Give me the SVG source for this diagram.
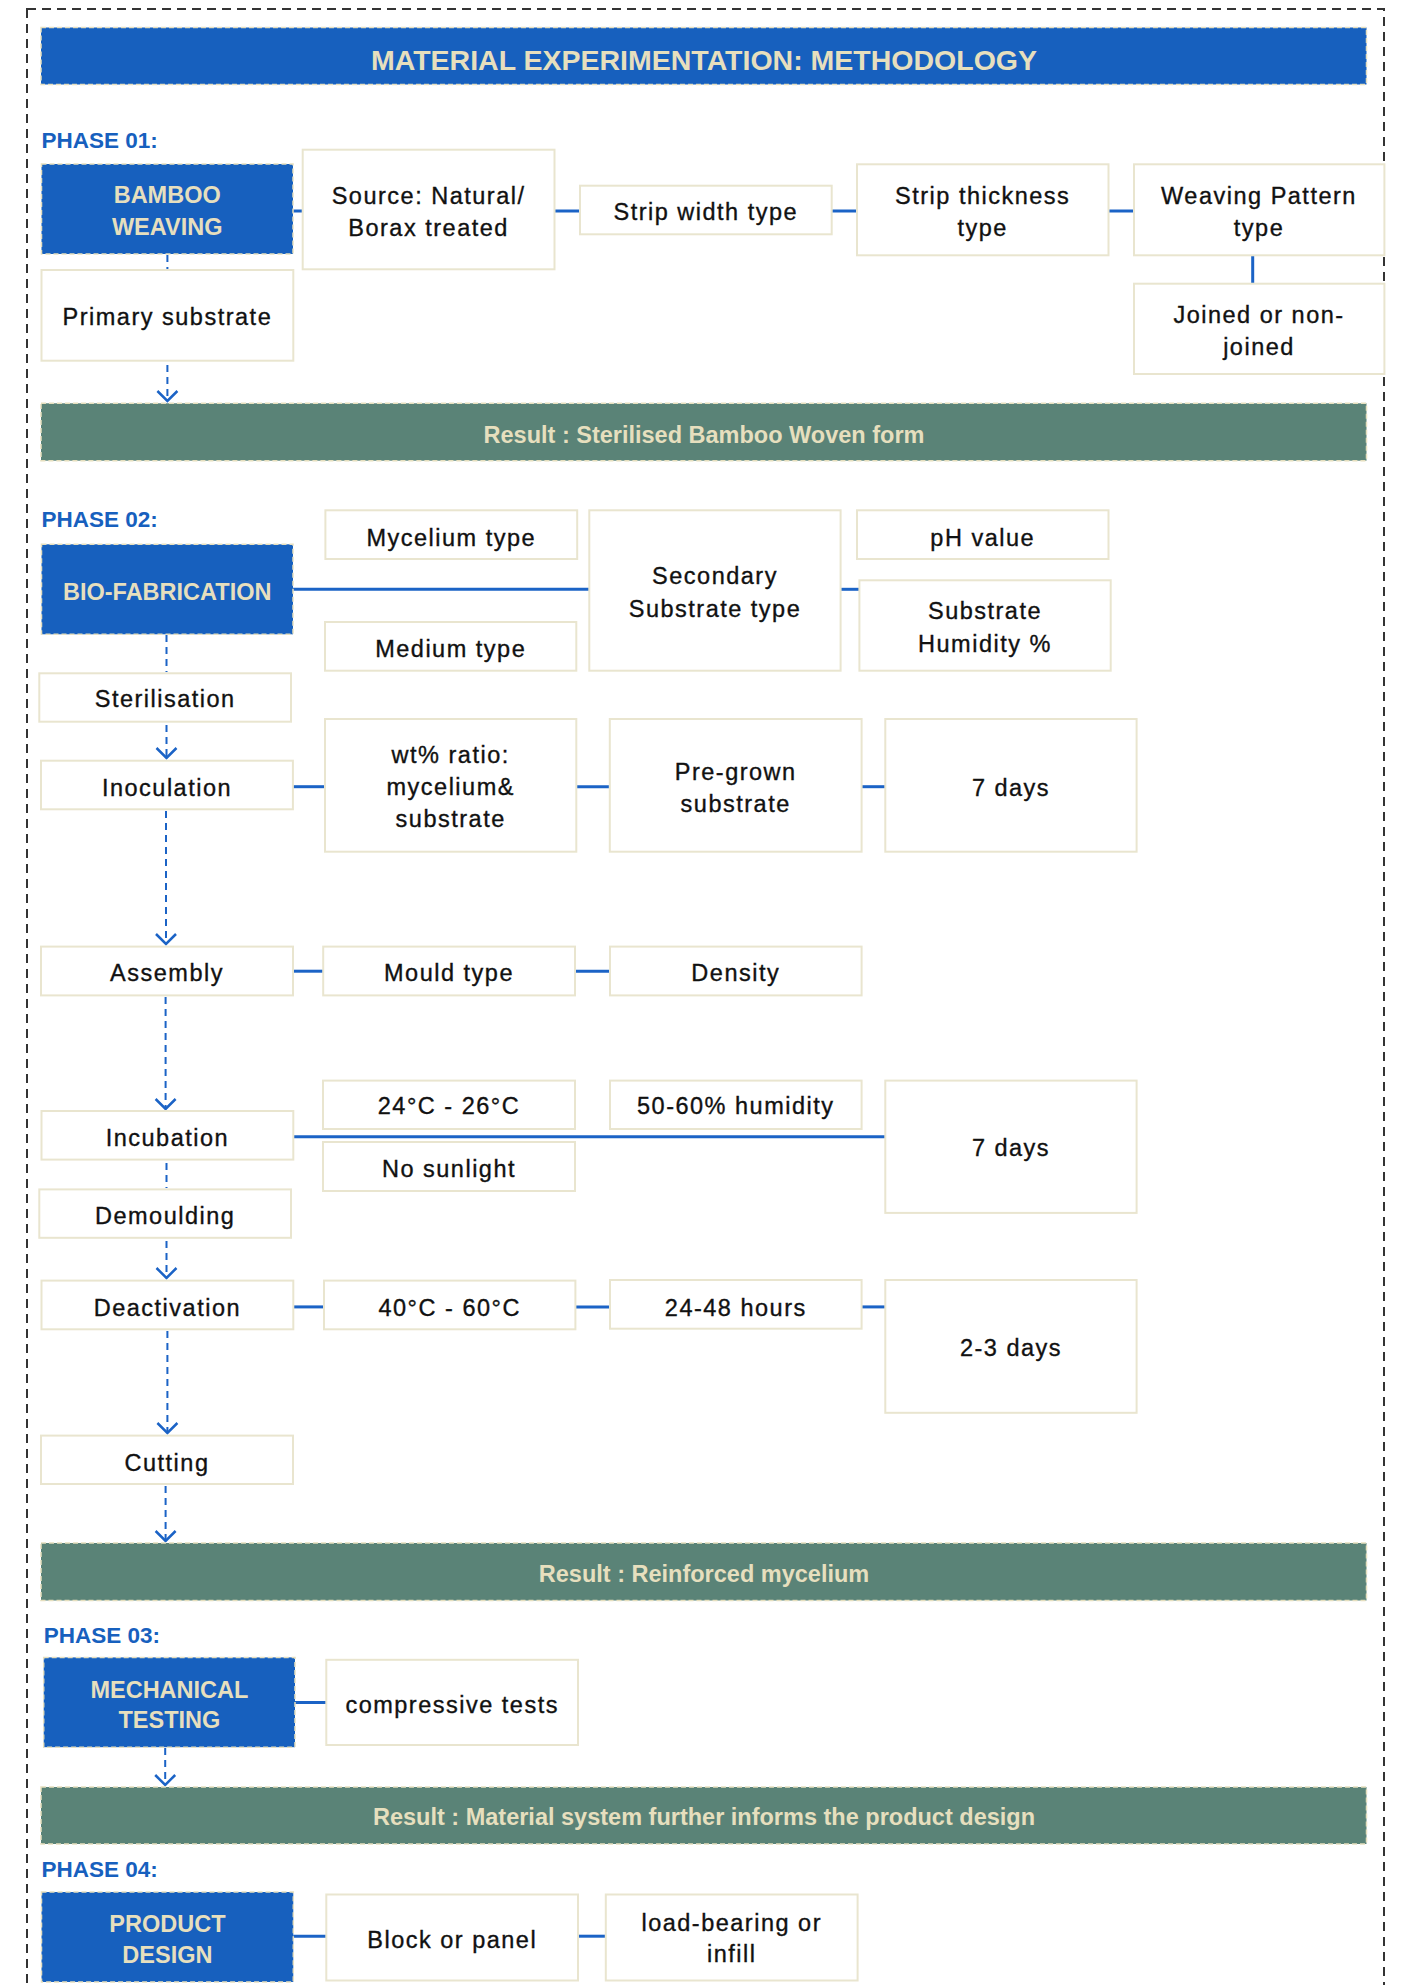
<svg xmlns="http://www.w3.org/2000/svg" width="1401" height="1985" viewBox="0 0 1401 1985">
<defs>
<style>
.frame{fill:none;stroke:#333;stroke-width:2;stroke-dasharray:9 6}
.hd{fill:#1760BE;stroke:#E6DFBE;stroke-width:1.5;stroke-dasharray:5 3}
.res{fill:#5A8377;stroke:#E6DFBE;stroke-width:1.5;stroke-dasharray:5 3}
.bx{fill:#fff;stroke:#E9E5CF;stroke-width:2}
.ht{font-family:"Liberation Sans",Arial,sans-serif;font-weight:bold;fill:#E6DFBE;text-anchor:middle;font-size:23.5px}
.tt{font-family:"Liberation Sans",Arial,sans-serif;font-weight:bold;fill:#E6DFBE;text-anchor:middle;font-size:28.5px}
.ph{font-family:"Liberation Sans",Arial,sans-serif;font-weight:bold;fill:#1760BE;font-size:22.5px}
.t{font-family:"Liberation Sans",Arial,sans-serif;fill:#111;stroke:#111;stroke-width:0.35;text-anchor:middle;font-size:23.5px;letter-spacing:1.5px}
.c{stroke:#1B63C6;stroke-width:3;fill:none}
.d{stroke:#1B63C6;stroke-width:2;fill:none;stroke-dasharray:7 5}
</style>
<marker id="arr" viewBox="-12 -12 14 24" markerWidth="14" markerHeight="24" refX="0" refY="0" markerUnits="userSpaceOnUse" orient="auto">
<path d="M-10,-10 L0,0 L-10,10" fill="none" stroke="#1B63C6" stroke-width="2.5"/>
</marker>
</defs>
<rect width="1401" height="1985" fill="#fff"/>
<rect class="frame" x="27" y="9" width="1357" height="2000"/>

<g id="title"><rect class="hd" x="41" y="27.5" width="1325.5" height="57"/><text class="tt" x="704" y="69.5">MATERIAL EXPERIMENTATION: METHODOLOGY</text></g>

<g id="phase-labels">
<text class="ph" x="41.5" y="147.5">PHASE 01:</text>
<text class="ph" x="41.5" y="527">PHASE 02:</text>
<text class="ph" x="43.7" y="1643">PHASE 03:</text>
<text class="ph" x="41.5" y="1876.5">PHASE 04:</text>
</g>

<g id="connectors">
<line class="c" x1="293" y1="211" x2="302.7" y2="211"/>
<line class="c" x1="554.5" y1="211" x2="580" y2="211"/>
<line class="c" x1="831.7" y1="211" x2="857" y2="211"/>
<line class="c" x1="1108.5" y1="211" x2="1134" y2="211"/>
<line class="c" x1="1252.7" y1="256" x2="1252.7" y2="283"/>
<line class="c" x1="293" y1="589.3" x2="589.3" y2="589.3"/>
<line class="c" x1="840.6" y1="589.3" x2="859.4" y2="589.3"/>
<line class="c" x1="293" y1="786.7" x2="325" y2="786.7"/>
<line class="c" x1="576.3" y1="786.7" x2="609.8" y2="786.7"/>
<line class="c" x1="861.6" y1="786.7" x2="885.3" y2="786.7"/>
<line class="c" x1="293" y1="971.2" x2="323.2" y2="971.2"/>
<line class="c" x1="575" y1="971.2" x2="610" y2="971.2"/>
<line class="c" x1="293.3" y1="1136.8" x2="885.3" y2="1136.8"/>
<line class="c" x1="293.3" y1="1306.9" x2="324" y2="1306.9"/>
<line class="c" x1="575.4" y1="1306.9" x2="610" y2="1306.9"/>
<line class="c" x1="861.6" y1="1306.9" x2="885.3" y2="1306.9"/>
<line class="c" x1="295" y1="1702.5" x2="326.3" y2="1702.5"/>
<line class="c" x1="293.3" y1="1936.2" x2="326.3" y2="1936.2"/>
<line class="c" x1="578" y1="1936.2" x2="605.8" y2="1936.2"/>
<line class="d" x1="167.4" y1="255" x2="167.4" y2="270"/>
<line class="d" x1="167.4" y1="365" x2="167.4" y2="401" marker-end="url(#arr)"/>
<line class="d" x1="166.5" y1="635" x2="166.5" y2="672"/>
<line class="d" x1="166.5" y1="725" x2="166.5" y2="758" marker-end="url(#arr)"/>
<line class="d" x1="166" y1="811" x2="166" y2="944" marker-end="url(#arr)"/>
<line class="d" x1="165.6" y1="997" x2="165.6" y2="1109" marker-end="url(#arr)"/>
<line class="d" x1="166.5" y1="1163" x2="166.5" y2="1188"/>
<line class="d" x1="166.5" y1="1241" x2="166.5" y2="1278" marker-end="url(#arr)"/>
<line class="d" x1="167.4" y1="1331" x2="167.4" y2="1433" marker-end="url(#arr)"/>
<line class="d" x1="165.6" y1="1486" x2="165.6" y2="1541" marker-end="url(#arr)"/>
<line class="d" x1="165.2" y1="1748" x2="165.2" y2="1785" marker-end="url(#arr)"/>
</g>

<g id="bamboo-weaving"><rect class="hd" x="41.5" y="164" width="251.5" height="90"/><text class="ht" x="167.2" y="203.3">BAMBOO</text><text class="ht" x="167.2" y="235">WEAVING</text></g>
<g id="source"><rect class="bx" x="302.7" y="149.7" width="251.8" height="119.6"/><text class="t" x="428.6" y="204">Source: Natural/</text><text class="t" x="428.6" y="236">Borax treated</text></g>
<g id="strip-width"><rect class="bx" x="580" y="185.7" width="251.7" height="48.6"/><text class="t" x="705.8" y="220">Strip width type</text></g>
<g id="strip-thickness"><rect class="bx" x="857" y="164.3" width="251.5" height="91"/><text class="t" x="982.7" y="204">Strip thickness</text><text class="t" x="982.7" y="236">type</text></g>
<g id="weaving-pattern"><rect class="bx" x="1134" y="164.3" width="250.4" height="91"/><text class="t" x="1259" y="204">Weaving Pattern</text><text class="t" x="1259" y="236">type</text></g>
<g id="joined"><rect class="bx" x="1134" y="283.7" width="250.4" height="90.3"/><text class="t" x="1259" y="323.3">Joined or non-</text><text class="t" x="1259" y="355">joined</text></g>
<g id="primary-substrate"><rect class="bx" x="41.5" y="270" width="251.8" height="90.7"/><text class="t" x="167.4" y="325">Primary substrate</text></g>
<g id="result-1"><rect class="res" x="41" y="403.3" width="1325.5" height="57.4"/><text class="ht" x="704" y="442.7">Result : Sterilised Bamboo Woven form</text></g>

<g id="bio-fabrication"><rect class="hd" x="41.5" y="544.3" width="251.5" height="90"/><text class="ht" x="167.2" y="600">BIO-FABRICATION</text></g>
<g id="mycelium-type"><rect class="bx" x="325.4" y="510.3" width="251.8" height="48.7"/><text class="t" x="451.3" y="546">Mycelium type</text></g>
<g id="medium-type"><rect class="bx" x="325" y="622" width="251.3" height="48.7"/><text class="t" x="450.7" y="656.7">Medium type</text></g>
<g id="secondary-substrate"><rect class="bx" x="589.3" y="510.3" width="251.3" height="160.4"/><text class="t" x="715" y="584.3">Secondary</text><text class="t" x="715" y="616.7">Substrate type</text></g>
<g id="ph-value"><rect class="bx" x="857" y="510.3" width="251.5" height="48.7"/><text class="t" x="982.7" y="546">pH value</text></g>
<g id="substrate-humidity"><rect class="bx" x="859.4" y="580.3" width="251.3" height="90.4"/><text class="t" x="985" y="619.3">Substrate</text><text class="t" x="985" y="651.7">Humidity %</text></g>
<g id="sterilisation"><rect class="bx" x="39.3" y="673.3" width="251.7" height="48.4"/><text class="t" x="165.2" y="707.3">Sterilisation</text></g>
<g id="inoculation"><rect class="bx" x="41" y="760.7" width="251.9" height="48.6"/><text class="t" x="167" y="796">Inoculation</text></g>
<g id="wt-ratio"><rect class="bx" x="325" y="719" width="251.3" height="132.7"/><text class="t" x="450.7" y="763.3">wt% ratio:</text><text class="t" x="450.7" y="795">mycelium&amp;</text><text class="t" x="450.7" y="827.3">substrate</text></g>
<g id="pre-grown"><rect class="bx" x="609.8" y="719" width="251.8" height="132.7"/><text class="t" x="735.7" y="780">Pre-grown</text><text class="t" x="735.7" y="811.7">substrate</text></g>
<g id="days-7a"><rect class="bx" x="885.3" y="719" width="251.3" height="132.7"/><text class="t" x="1011" y="795.7">7 days</text></g>
<g id="assembly"><rect class="bx" x="41" y="946.6" width="252" height="48.8"/><text class="t" x="167" y="981.4">Assembly</text></g>
<g id="mould-type"><rect class="bx" x="323.2" y="946.6" width="251.8" height="48.8"/><text class="t" x="449" y="981.4">Mould type</text></g>
<g id="density"><rect class="bx" x="610" y="946.6" width="251.6" height="48.8"/><text class="t" x="735.8" y="981.4">Density</text></g>
<g id="temp-24"><rect class="bx" x="323" y="1080.6" width="252" height="48.4"/><text class="t" x="449" y="1114">24°C - 26°C</text></g>
<g id="humidity-50"><rect class="bx" x="610" y="1080.6" width="251.6" height="48.4"/><text class="t" x="735.8" y="1114">50-60% humidity</text></g>
<g id="incubation"><rect class="bx" x="41.5" y="1111" width="251.8" height="48.6"/><text class="t" x="167.4" y="1145.5">Incubation</text></g>
<g id="no-sunlight"><rect class="bx" x="323" y="1142" width="252" height="49"/><text class="t" x="449" y="1177">No sunlight</text></g>
<g id="days-7b"><rect class="bx" x="885.3" y="1080.6" width="251.3" height="132.3"/><text class="t" x="1011" y="1156">7 days</text></g>
<g id="demoulding"><rect class="bx" x="39.3" y="1189.4" width="251.7" height="48.4"/><text class="t" x="165.2" y="1224.4">Demoulding</text></g>
<g id="deactivation"><rect class="bx" x="41.5" y="1280.6" width="251.8" height="48.7"/><text class="t" x="167.4" y="1315.6">Deactivation</text></g>
<g id="temp-40"><rect class="bx" x="324" y="1280.6" width="251.4" height="48.7"/><text class="t" x="449.7" y="1315.6">40°C - 60°C</text></g>
<g id="hours"><rect class="bx" x="610" y="1280" width="251.6" height="48.7"/><text class="t" x="735.8" y="1315.6">24-48 hours</text></g>
<g id="days-23"><rect class="bx" x="885.3" y="1280" width="251.3" height="132.8"/><text class="t" x="1011" y="1356">2-3 days</text></g>
<g id="cutting"><rect class="bx" x="41" y="1435.6" width="252" height="48.4"/><text class="t" x="167" y="1470.5">Cutting</text></g>
<g id="result-2"><rect class="res" x="41" y="1543" width="1325.5" height="57.5"/><text class="ht" x="704" y="1582.4">Result : Reinforced mycelium</text></g>

<g id="mechanical-testing"><rect class="hd" x="43.7" y="1657.4" width="251.3" height="89.8"/><text class="ht" x="169.4" y="1698.4">MECHANICAL</text><text class="ht" x="169.4" y="1728">TESTING</text></g>
<g id="compressive-tests"><rect class="bx" x="326.3" y="1659.8" width="251.7" height="85.2"/><text class="t" x="452.2" y="1712.7">compressive tests</text></g>
<g id="result-3"><rect class="res" x="41" y="1787" width="1325.5" height="57"/><text class="ht" x="704" y="1825.3">Result : Material system further informs the product design</text></g>

<g id="product-design"><rect class="hd" x="41.5" y="1892" width="251.8" height="90"/><text class="ht" x="167.4" y="1932">PRODUCT</text><text class="ht" x="167.4" y="1962.8">DESIGN</text></g>
<g id="block-panel"><rect class="bx" x="326.3" y="1894.5" width="251.7" height="86"/><text class="t" x="452.2" y="1948">Block or panel</text></g>
<g id="load-bearing"><rect class="bx" x="605.8" y="1894.5" width="251.8" height="86"/><text class="t" x="731.7" y="1931">load-bearing or</text><text class="t" x="731.7" y="1961.8">infill</text></g>
</svg>
